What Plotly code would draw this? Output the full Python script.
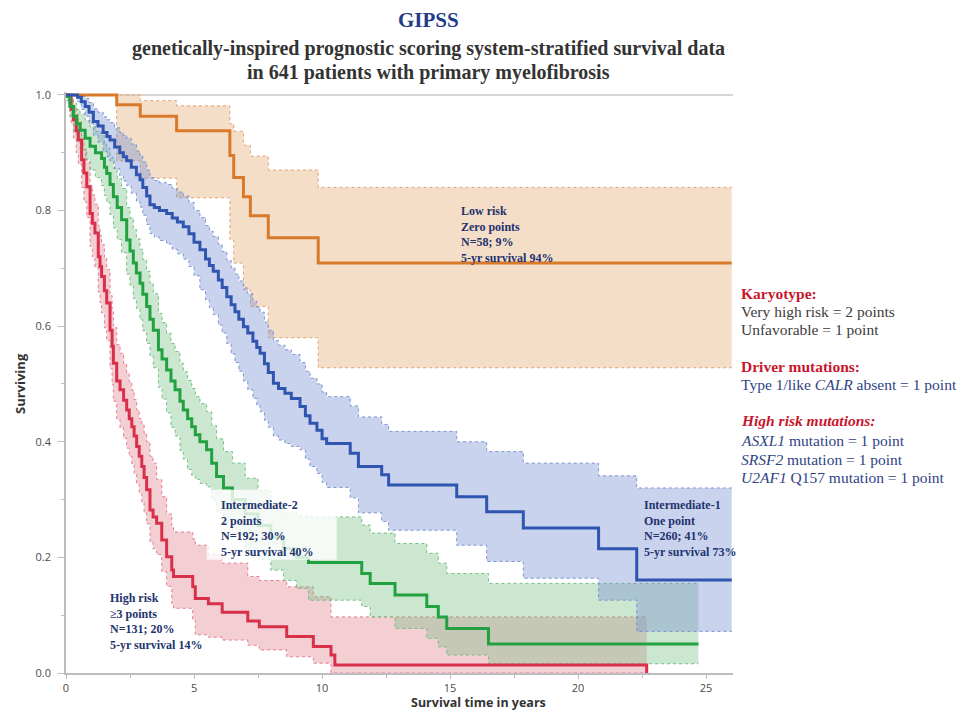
import plotly.graph_objects as go

# ---------------- data ----------------
low_t  = [0.0, 1.98, 2.9, 4.32, 6.4, 6.55, 6.93, 7.2, 7.9, 9.85, 26.0]
low_s  = [1.0, 0.983, 0.963, 0.938, 0.895, 0.857, 0.824, 0.791, 0.753, 0.709, 0.709]
low_lo = [1.0, 0.886, 0.856, 0.822, 0.75, 0.709, 0.663, 0.634, 0.58, 0.528, 0.528]
low_up = [1.0, 1.0, 0.99, 0.981, 0.95, 0.937, 0.913, 0.894, 0.87, 0.84, 0.84]

int1_t  = [0.0, 0.45, 0.6, 0.75, 0.9, 1.07, 1.25, 1.45, 1.6, 1.72, 1.9, 2.1, 2.24, 2.37, 2.55,
           2.75, 2.89, 3.0, 3.15, 3.28, 3.45, 3.65, 3.93, 4.15, 4.35, 4.58, 4.8, 5.0, 5.23, 5.45,
           5.6, 5.75, 5.95, 6.1, 6.28, 6.45, 6.6, 6.75, 6.93, 7.1, 7.3, 7.45, 7.58, 7.75, 7.9,
           8.1, 8.3, 8.55, 8.8, 9.14, 9.35, 9.53, 9.8, 10.0, 10.18, 11.1, 11.42, 12.33, 12.6,
           15.26, 16.43, 17.86, 20.8, 22.29, 26.0]
int1_s  = [1.0, 0.996, 0.988, 0.98, 0.97, 0.954, 0.946, 0.935, 0.928, 0.922, 0.91, 0.9, 0.893, 0.886, 0.875,
           0.862, 0.853, 0.84, 0.825, 0.81, 0.805, 0.8, 0.795, 0.787, 0.78, 0.772, 0.76, 0.745, 0.732, 0.716,
           0.705, 0.695, 0.68, 0.667, 0.651, 0.637, 0.625, 0.612, 0.599, 0.588, 0.574, 0.563, 0.553, 0.535, 0.52,
           0.501, 0.492, 0.484, 0.475, 0.461, 0.445, 0.432, 0.42, 0.405, 0.397, 0.38, 0.357, 0.343, 0.325,
           0.305, 0.279, 0.251, 0.215, 0.161, 0.161]
int1_lo = [1.0, 0.988, 0.975, 0.963, 0.95, 0.93, 0.918, 0.902, 0.893, 0.885, 0.872, 0.86, 0.851, 0.843, 0.83,
           0.816, 0.806, 0.792, 0.776, 0.76, 0.754, 0.748, 0.742, 0.733, 0.725, 0.716, 0.703, 0.687, 0.663, 0.645,
           0.632, 0.62, 0.602, 0.588, 0.57, 0.552, 0.537, 0.522, 0.505, 0.49, 0.475, 0.463, 0.452, 0.437, 0.425,
           0.41, 0.403, 0.397, 0.392, 0.386, 0.37, 0.357, 0.345, 0.33, 0.321, 0.303, 0.277, 0.262, 0.247,
           0.221, 0.193, 0.164, 0.126, 0.072, 0.072]
int1_up = [1.0, 1.0, 0.998, 0.994, 0.987, 0.976, 0.97, 0.962, 0.957, 0.952, 0.943, 0.935, 0.93, 0.925, 0.915,
           0.903, 0.895, 0.884, 0.87, 0.857, 0.852, 0.848, 0.845, 0.838, 0.832, 0.825, 0.814, 0.8, 0.788, 0.774,
           0.764, 0.755, 0.741, 0.729, 0.714, 0.701, 0.69, 0.678, 0.666, 0.656, 0.643, 0.633, 0.624, 0.607, 0.593,
           0.575, 0.567, 0.559, 0.551, 0.537, 0.522, 0.51, 0.5, 0.486, 0.478, 0.462, 0.443, 0.43, 0.418,
           0.4, 0.383, 0.363, 0.341, 0.32, 0.32]

int2_t  = [0.0, 0.03, 0.15, 0.29, 0.42, 0.55, 0.75, 0.94, 1.15, 1.39, 1.5, 1.59, 1.72, 1.85, 2.0,
           2.17, 2.37, 2.5, 2.63, 2.75, 2.89, 3.0, 3.15, 3.28, 3.41, 3.61, 3.75, 3.93, 4.1, 4.26,
           4.45, 4.58, 4.75, 4.91, 5.05, 5.23, 5.49, 5.69, 5.88, 6.15, 6.5, 7.0, 7.5, 8.0, 8.5,
           9.0, 9.47, 11.55, 11.88, 12.85, 14.09, 14.54, 14.87, 16.5, 24.7]
int2_s  = [1.0, 0.997, 0.98, 0.963, 0.95, 0.939, 0.925, 0.911, 0.9, 0.89, 0.875, 0.864, 0.845, 0.824, 0.805,
           0.784, 0.749, 0.73, 0.709, 0.692, 0.674, 0.655, 0.634, 0.612, 0.593, 0.559, 0.543, 0.524, 0.505, 0.49,
           0.47, 0.455, 0.44, 0.426, 0.412, 0.4, 0.386, 0.363, 0.34, 0.32, 0.3, 0.275, 0.255, 0.235, 0.215,
           0.2, 0.191, 0.172, 0.155, 0.135, 0.115, 0.097, 0.077, 0.05, 0.05]
int2_lo = [1.0, 0.99, 0.962, 0.938, 0.922, 0.905, 0.888, 0.87, 0.857, 0.843, 0.826, 0.814, 0.793, 0.77, 0.75,
           0.727, 0.69, 0.67, 0.648, 0.63, 0.611, 0.592, 0.57, 0.548, 0.528, 0.494, 0.474, 0.45, 0.425, 0.41,
           0.385, 0.37, 0.352, 0.342, 0.335, 0.328, 0.322, 0.3, 0.278, 0.259, 0.24, 0.216, 0.197, 0.178, 0.16,
           0.146, 0.126, 0.115, 0.097, 0.077, 0.06, 0.045, 0.031, 0.016, 0.016]
int2_up = [1.0, 1.0, 0.995, 0.985, 0.975, 0.967, 0.956, 0.945, 0.937, 0.93, 0.917, 0.908, 0.892, 0.873, 0.856,
           0.838, 0.805, 0.787, 0.767, 0.751, 0.733, 0.715, 0.695, 0.674, 0.656, 0.622, 0.606, 0.588, 0.57, 0.556,
           0.536, 0.521, 0.506, 0.492, 0.478, 0.466, 0.452, 0.428, 0.405, 0.383, 0.363, 0.337, 0.316, 0.295, 0.278,
           0.272, 0.27, 0.256, 0.242, 0.224, 0.207, 0.19, 0.172, 0.155, 0.155]

high_t  = [0.0, 0.09, 0.2, 0.29, 0.4, 0.48, 0.61, 0.7, 0.81, 0.94, 1.03, 1.13, 1.26, 1.33, 1.39,
           1.5, 1.59, 1.72, 1.8, 1.85, 1.98, 2.11, 2.25, 2.37, 2.47, 2.57, 2.66, 2.76, 2.86, 2.96,
           3.05, 3.15, 3.28, 3.4, 3.54, 3.74, 3.93, 4.13, 4.2, 4.95, 5.05, 5.56, 6.1, 7.1, 7.55,
           8.62, 9.66, 10.35, 10.5, 22.68]
high_s  = [1.0, 0.997, 0.975, 0.957, 0.938, 0.922, 0.888, 0.865, 0.841, 0.795, 0.778, 0.761, 0.72, 0.703, 0.686,
           0.661, 0.64, 0.593, 0.565, 0.536, 0.505, 0.49, 0.472, 0.455, 0.44, 0.426, 0.41, 0.392, 0.375, 0.357,
           0.338, 0.317, 0.282, 0.27, 0.259, 0.23, 0.201, 0.178, 0.167, 0.149, 0.129, 0.12, 0.105, 0.09, 0.08,
           0.063, 0.046, 0.031, 0.014, 0.0]
high_lo = [1.0, 0.985, 0.95, 0.925, 0.9, 0.88, 0.84, 0.815, 0.788, 0.738, 0.72, 0.702, 0.659, 0.641, 0.623,
           0.597, 0.575, 0.527, 0.499, 0.47, 0.439, 0.424, 0.406, 0.389, 0.375, 0.361, 0.345, 0.328, 0.312, 0.295,
           0.277, 0.258, 0.226, 0.215, 0.205, 0.175, 0.15, 0.12, 0.112, 0.092, 0.066, 0.062, 0.057, 0.048, 0.04,
           0.028, 0.017, 0.0, 0.0, 0.0]
high_up = [1.0, 1.0, 0.992, 0.98, 0.966, 0.954, 0.926, 0.906, 0.884, 0.843, 0.827, 0.811, 0.773, 0.757, 0.741,
           0.718, 0.698, 0.653, 0.626, 0.598, 0.568, 0.553, 0.535, 0.518, 0.503, 0.489, 0.473, 0.455, 0.44, 0.43,
           0.415, 0.4, 0.375, 0.363, 0.335, 0.305, 0.275, 0.252, 0.244, 0.232, 0.221, 0.205, 0.19, 0.167, 0.16,
           0.149, 0.132, 0.097, 0.097, 0.097]

x_ticks = [0, 5, 10, 15, 20, 25]
y_ticks = [0.0, 0.2, 0.4, 0.6, 0.8, 1.0]
y_tick_labels = ["0.0", "0.2", "0.4", "0.6", "0.8", "1.0"]

low_label  = ["Low risk", "Zero points", "N=58; 9%", "5-yr survival 94%"]
int1_label = ["Intermediate-1", "One point", "N=260; 41%", "5-yr survival 73%"]
int2_label = ["Intermediate-2", "2 points", "N=192; 30%", "5-yr survival 40%"]
high_label = ["High risk", "\u22653 points", "N=131; 20%", "5-yr survival 14%"]

# ---------------- styles ----------------
groups = [
    # (t, s, lo, up, line color, fill, edge)
    (low_t, low_s, low_lo, low_up, "#D97A2B", "rgba(234,190,145,0.50)", "#E2A272"),
    (high_t, high_s, high_lo, high_up, "#D9304A", "rgba(220,110,125,0.33)", "#E27D8D"),
    (int2_t, int2_s, int2_lo, int2_up, "#22A142", "rgba(110,185,120,0.35)", "#72BD83"),
    (int1_t, int1_s, int1_lo, int1_up, "#2F55B0", "rgba(120,145,210,0.40)", "#7D93D3"),
]

fig = go.Figure()

for t, s, lo, up, lc, fc, ec in groups:
    fig.add_trace(go.Scatter(x=t, y=lo, mode="lines", line=dict(color=ec, width=1, dash="dot", shape="hv"),
                             showlegend=False, hoverinfo="skip"))
    fig.add_trace(go.Scatter(x=t, y=up, mode="lines", line=dict(color=ec, width=1, dash="dot", shape="hv"),
                             fill="tonexty", fillcolor=fc, showlegend=False, hoverinfo="skip"))

for t, s, lo, up, lc, fc, ec in groups:
    fig.add_trace(go.Scatter(x=t, y=s, mode="lines", line=dict(color=lc, width=3, shape="hv"),
                             showlegend=False))

# pixel helpers for text placement (plot area: x 66..733, y 92..673)
PL, PR, PT, PB = 66, 733, 92, 673
def px(x):
    return (x - PL) / (PR - PL)
def py(y):
    return (PB - y) / (PB - PT)

serif = "Liberation Serif"
navy = "#22336E"
ann = []

def block(lines, x, ytop):
    ann.append(dict(xref="paper", yref="paper", x=px(x), y=py(ytop), xanchor="left", yanchor="top",
                    align="left", showarrow=False, text="<br>".join(lines),
                    font=dict(family=serif, size=12, color=navy, weight="bold")))

block(low_label, 459, 202)
block(int2_label, 219, 496)
block(high_label, 108, 589)
block(int1_label, 642, 496)

# title
ann.append(dict(xref="paper", yref="paper", x=px(428), y=py(20), xanchor="center", yanchor="middle",
                showarrow=False, text="GIPSS",
                font=dict(family=serif, size=21, color="#1F3C88", weight="bold")))
ann.append(dict(xref="paper", yref="paper", x=px(428), y=py(48), xanchor="center", yanchor="middle",
                showarrow=False, text="genetically-inspired prognostic scoring system-stratified survival data",
                font=dict(family=serif, size=20, color="#333333", weight="bold")))
ann.append(dict(xref="paper", yref="paper", x=px(428), y=py(73), xanchor="center", yanchor="middle",
                showarrow=False, text="in 641 patients with primary myelofibrosis",
                font=dict(family=serif, size=20, color="#333333", weight="bold")))

# right side scoring text
red = "#C8162E"
gray = "#3C3C3C"
blue_t = "#2F4385"
right_lines = [
    ("<b>Karyotype:</b>", red, 293),
    ("Very high risk = 2 points", gray, 311),
    ("Unfavorable = 1 point", gray, 329),
    ("<b>Driver mutations:</b>", red, 366),
    ("Type 1/like <i>CALR</i> absent = 1 point", blue_t, 384),
    ("<b><i>High risk mutations:</i></b>", red, 421),
    ("<i>ASXL1</i> mutation = 1 point", blue_t, 440),
    ("<i>SRSF2</i> mutation = 1 point", blue_t, 459),
    ("<i>U2AF1</i> Q157 mutation = 1 point", blue_t, 477),
]
for txt, col, yy in right_lines:
    ann.append(dict(xref="paper", yref="paper", x=px(739), y=py(yy), xanchor="left", yanchor="middle",
                    showarrow=False, text=txt, font=dict(family=serif, size=15.5, color=col)))

# axis titles
ann.append(dict(xref="paper", yref="paper", x=px(478), y=py(702), xanchor="center", yanchor="middle",
                showarrow=False, text="<b>Survival time in years</b>",
                font=dict(family="Open Sans", size=12.5, color="#333333")))
ann.append(dict(xref="paper", yref="paper", x=px(20), y=py(384), xanchor="center", yanchor="middle",
                showarrow=False, text="<b>Surviving</b>", textangle=-90,
                font=dict(family="Open Sans", size=13, color="#333333")))

shapes = [
    dict(type="line", xref="paper", yref="y", x0=0, x1=1, y0=1.0, y1=1.0,
         line=dict(color="#C8C8C8", width=1.5), layer="below"),
    dict(type="rect", xref="x", yref="y", x0=5.5, x1=10.57, y0=0.196, y1=0.317,
         fillcolor="rgba(255,255,255,0.8)", line=dict(width=0), layer="above"),
]

axis_common = dict(showline=True, linecolor="#BDBDBD", linewidth=1.5, ticks="outside",
                   tickcolor="#BDBDBD", showgrid=False, zeroline=False,
                   tickfont=dict(family="Open Sans", size=11, color="#4A4A4A"))

fig.update_layout(
    width=961, height=712, autosize=False,
    margin=dict(l=PL, r=961 - PR, t=PT, b=712 - PB),
    paper_bgcolor="white", plot_bgcolor="white",
    xaxis=dict(range=[0, 26.05], tickvals=x_ticks, ticklen=4,
               minor=dict(dtick=2.5, ticks="outside", ticklen=3, tickcolor="#BDBDBD"), **axis_common),
    yaxis=dict(range=[0, 1.005], tickvals=y_ticks, ticktext=y_tick_labels, ticklen=6, ticklabelstandoff=5,
               minor=dict(dtick=0.1, ticks="outside", ticklen=3, tickcolor="#BDBDBD"), **axis_common),
    annotations=ann, shapes=shapes, showlegend=False,
)

fig.write_html("out.html")
